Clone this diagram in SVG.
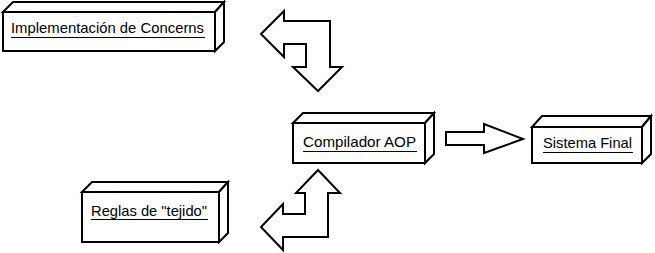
<svg xmlns="http://www.w3.org/2000/svg" width="655" height="253" viewBox="0 0 655 253">
  <style>
    .face { fill: #ffffff; stroke: #000000; stroke-width: 2; stroke-linejoin: miter; }
    .label { font-family: "Liberation Sans", Arial, sans-serif; font-size: 15px; fill: #000000; }
    .uline { stroke: #000000; stroke-width: 1; }
    .arrow { fill: #ffffff; stroke: #000000; stroke-width: 2; stroke-linejoin: miter; }
  </style>
  <rect width="655" height="253" fill="#ffffff"/>

  <!-- 3D boxes: front face, top face, right face -->
  <g id="implementacion">
    <polygon class="face" points="3,12 13,2 224,2 215,12"/>
    <polygon class="face" points="215,12 224,2 224,42 215,51"/>
    <rect class="face" x="3" y="12" width="212" height="39"/>
    <text class="label" x="11" y="33" textLength="193" lengthAdjust="spacingAndGlyphs">Implementación de Concerns</text>
    <line class="uline" x1="11" y1="37.5" x2="205" y2="37.5"/>
  </g>

  <g id="compilador">
    <polygon class="face" points="293,123 303,113 434,113 425,123"/>
    <polygon class="face" points="425,123 434,113 434,154 425,163"/>
    <rect class="face" x="293" y="123" width="132" height="40"/>
    <text class="label" x="303" y="147" textLength="113" lengthAdjust="spacingAndGlyphs">Compilador AOP</text>
    <line class="uline" x1="303" y1="151.5" x2="417" y2="151.5"/>
  </g>

  <g id="sistema">
    <polygon class="face" points="532,127 542,116 651,116 642,127"/>
    <polygon class="face" points="642,127 651,116 651,154 642,163"/>
    <rect class="face" x="532" y="127" width="110" height="36"/>
    <text class="label" x="543" y="148" textLength="89" lengthAdjust="spacingAndGlyphs">Sistema Final</text>
    <line class="uline" x1="543" y1="152.5" x2="633" y2="152.5"/>
  </g>

  <g id="reglas">
    <polygon class="face" points="82,192 92,182 228,182 219,192"/>
    <polygon class="face" points="219,192 228,182 228,233 219,242"/>
    <rect class="face" x="82" y="192" width="137" height="50"/>
    <text class="label" x="91" y="216" textLength="116" lengthAdjust="spacingAndGlyphs">Reglas de "tejido"</text>
    <line class="uline" x1="91" y1="219.5" x2="208" y2="219.5"/>
  </g>

  <!-- block arrows -->
  <g id="connectors">
    <polygon class="arrow" points="261,34 284,11 284,21 330,21 330,67 342,67 318,91 293,67 306,67 306,44 284,44 284,57"/>
    <polygon class="arrow" points="446,132 484,132 484,124 523,139 484,153 484,145 446,145"/>
    <polygon class="arrow" points="318,170 340,193 328,193 328,237 283,237 283,250 261,227 283,204 283,214 305,214 305,193 296,193"/>
  </g>
</svg>
